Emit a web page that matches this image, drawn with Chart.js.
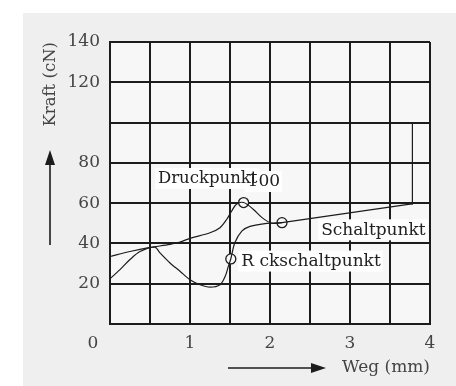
<!DOCTYPE html>
<html>
<head>
<meta charset="utf-8">
<script src="https://cdn.jsdelivr.net/npm/chart.js@4/dist/chart.umd.min.js"></script>
<style>
  html, body { margin: 0; padding: 0; background: #fff; }
  #wrap { width: 456px; height: 386px; }
</style>
</head>
<body>
<div id="wrap"><canvas id="myChart" width="456" height="386"></canvas></div>
<script>
// Druckkurve (Weg in mm, Kraft in cN)
const wegDruck = [0, 0.25, 0.5, 0.75, 0.875, 1.0, 1.25, 1.375, 1.46, 1.52, 1.58, 1.67, 1.79, 1.9, 2.02, 2.15]
const kraftDruck = [33.5, 36, 38, 39.5, 40.7, 42.5, 45.3, 47.8, 52, 56, 59.5, 60.3, 57, 52.8, 50, 50.3]

// Rueckkurve
const wegRueck = [0, 0.125, 0.25, 0.375, 0.56, 0.625, 0.75, 0.875, 1.0, 1.125, 1.25, 1.375, 1.44, 1.48, 1.51, 1.56, 1.65, 1.75, 1.96, 2.15]
const kraftRueck = [22.5, 27, 32, 36, 38.2, 35.3, 30.3, 26.2, 22, 19.5, 18.3, 19.5, 23.7, 28.7, 32.3, 40.3, 46.2, 48.5, 50, 50.3]

// gerader Teil nach dem Schaltpunkt
const wegSchalt = [2.15, 3.75, 3.78, 3.78]
const kraftSchalt = [50.3, 59.5, 59.5, 100]

// markierte Punkte
const punktNamen = ['Druckpunkt', 'Schaltpunkt', 'R ckschaltpunkt']
const punktWeg = [1.67, 2.15, 1.51]
const punktKraft = [60.3, 50.3, 32.3]

// Achsen
const xTickLabels = [1, 2, 3, 4]
const yTickLabels = [20, 40, 60, 80, 120, 140]

const toXY = (xs, ys) => xs.map((x, i) => ({ x, y: ys[i] }))

const ink = '#1c1c1c'
const serif = 'DejaVu Serif'

const deko = {
  id: 'deko',
  beforeDraw(chart) {
    const { ctx, chartArea: a } = chart
    ctx.save()
    ctx.fillStyle = '#efefef'
    ctx.fillRect(23, 13, 456 - 23, 386 - 13)
    ctx.fillStyle = '#f7f7f7'
    ctx.fillRect(a.left, a.top, a.right - a.left, a.bottom - a.top)
    ctx.restore()
  },
  beforeDatasetsDraw(chart) {
    const { ctx, scales: { x, y } } = chart
    ctx.save()
    ctx.textBaseline = 'middle'
    const schilder = [
      { text: punktNamen[0], wx: 0.6, wy: 72, size: 16.5 },
      { text: '100', wx: 1.72, wy: 70.5, size: 17 },
      { text: punktNamen[1], wx: 2.64, wy: 46.5, size: 17 },
      { text: punktNamen[2], wx: 1.64, wy: 31, size: 17 }
    ]
    schilder.forEach(s => {
      ctx.font = `${s.size}px "${serif}"`
      const px = x.getPixelForValue(s.wx)
      const py = y.getPixelForValue(s.wy)
      const w = ctx.measureText(s.text).width
      ctx.fillStyle = '#ffffff'
      ctx.fillRect(px - 3, py - 11, w + 5, 21)
    })
    ctx.fillStyle = '#222'
    schilder.forEach(s => {
      ctx.font = `${s.size}px "${serif}"`
      ctx.fillText(s.text, x.getPixelForValue(s.wx), y.getPixelForValue(s.wy))
    })
    // gemeinsamer Nullpunkt
    ctx.font = `17px "${serif}"`
    ctx.fillStyle = '#444'
    ctx.textAlign = 'center'
    ctx.fillText('0', x.left - 17, y.bottom + 20)
    ctx.restore()
  },
  afterDraw(chart) {
    const { ctx } = chart
    ctx.save()
    ctx.strokeStyle = ink
    ctx.fillStyle = ink
    ctx.lineWidth = 1.6
    // Pfeil nach oben
    ctx.beginPath(); ctx.moveTo(50, 245); ctx.lineTo(50, 162); ctx.stroke()
    ctx.beginPath(); ctx.moveTo(50, 150); ctx.lineTo(45, 165); ctx.lineTo(55, 165); ctx.closePath(); ctx.fill()
    // Pfeil nach rechts
    ctx.beginPath(); ctx.moveTo(228, 368); ctx.lineTo(315, 368); ctx.stroke()
    ctx.beginPath(); ctx.moveTo(326, 368); ctx.lineTo(311, 363); ctx.lineTo(311, 373); ctx.closePath(); ctx.fill()
    ctx.restore()
  }
}

const linie = (data) => ({
  data, showLine: true, borderColor: ink, borderWidth: 1.2,
  pointRadius: 0, tension: 0.3, fill: false
})

new Chart(document.querySelector('#myChart'), {
  type: 'scatter',
  data: {
    datasets: [
      linie(toXY(wegDruck, kraftDruck)),
      linie(toXY(wegRueck, kraftRueck)),
      { ...linie(toXY(wegSchalt, kraftSchalt)), tension: 0 },
      {
        data: toXY(punktWeg, punktKraft), showLine: false,
        pointRadius: 5, pointStyle: 'circle', borderColor: ink, borderWidth: 1.3,
        backgroundColor: '#f7f7f7'
      }
    ]
  },
  options: {
    responsive: false,
    animation: false,
    layout: { padding: { left: 0, right: 26, top: 42, bottom: 0 } },
    plugins: { legend: { display: false }, tooltip: { enabled: false } },
    scales: {
      x: {
        type: 'linear', min: 0, max: 4,
        afterFit: (s) => { s.height = 62 },
        grid: { color: ink, lineWidth: 2, drawTicks: false },
        border: { color: ink, width: 2 },
        ticks: {
          stepSize: 0.5, autoSkip: false, maxRotation: 0, padding: 9,
          color: '#444', font: { family: serif, size: 17 },
          callback: (v) => xTickLabels.includes(v) ? String(v) : ''
        },
        title: {
          display: true, text: 'Weg (mm)', align: 'end', color: '#444',
          font: { family: serif, size: 17 }, padding: { top: 0, bottom: 8 }
        }
      },
      y: {
        min: 0, max: 140,
        afterFit: (s) => { s.width = 110 },
        grid: { color: ink, lineWidth: 2, drawTicks: false },
        border: { color: ink, width: 2 },
        ticks: {
          stepSize: 20, padding: 10,
          color: '#444', font: { family: serif, size: 17 },
          callback: (v) => yTickLabels.includes(v) ? String(v) : ''
        },
        title: {
          display: true, text: 'Kraft (cN)', align: 'end', color: '#444',
          font: { family: serif, size: 16.5 }, padding: { top: 41, bottom: 0 }
        }
      }
    }
  },
  plugins: [deko]
})
</script>
</body>
</html>
